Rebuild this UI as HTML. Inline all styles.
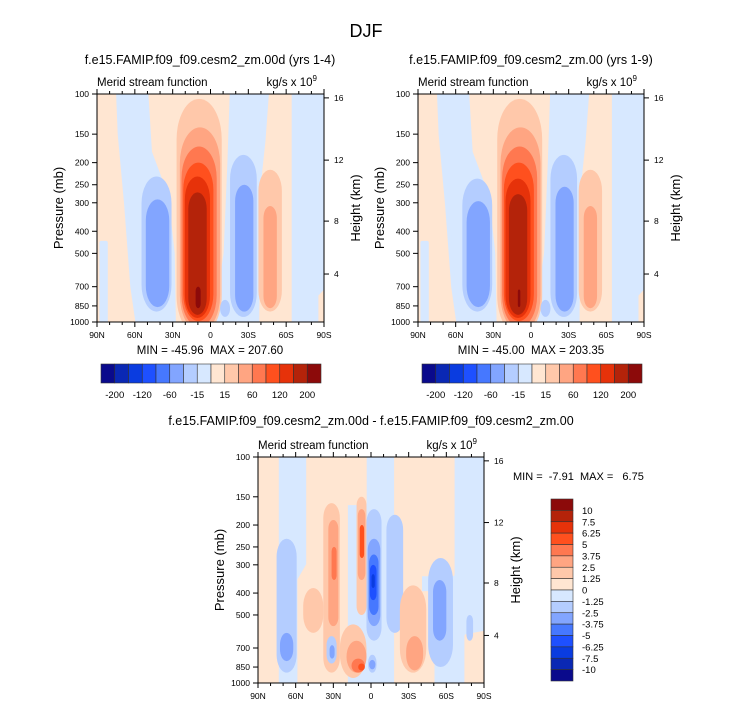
<!DOCTYPE html>
<html><head><meta charset="utf-8"><style>
html,body{margin:0;padding:0;background:#fff;}
svg{display:block;font-family:"Liberation Sans",Arial,sans-serif;}
text{white-space:pre;}
</style></head><body>
<svg id="fig" width="733" height="708" viewBox="0 0 733 708" xmlns="http://www.w3.org/2000/svg">
<text x="366" y="37" font-size="18" text-anchor="middle">DJF</text>
</svg>
<script>
// ---------- data ----------
const palette = ["#0a0a8c","#0a28b4","#0a3ce0","#1e50ff","#4678ff","#82a5ff","#b4cdff","#d7e8ff","#ffe6d2","#ffc8aa","#ffa582","#ff7850","#ff501e","#e6320a","#b4230a","#8c0a0a"];
const topLevelLabels = ["-200","-120","-60","-15","15","60","120","200"];
const diffLevelLabels = ["10","7.5","6.25","5","3.75","2.5","1.25","0","-1.25","-2.5","-3.75","-5","-6.25","-7.5","-10"];
const pTicks = [100,150,200,250,300,400,500,700,850,1000];
const latTicks = [90,60,30,0,-30,-60,-90];
const latLabels = ["90N","60N","30N","0","30S","60S","90S"];
const heightKm = [4,8,12,16];
const heightP = [616,361,195,104];
// top panels: background level 8; regions [level, [[lat,p],...]]
const topRegions = [
 [7, [[73.3,100],[50.8,100],[48,180],[35,280],[30,500],[29,1000],[58,1000],[62,700],[67,300],[72,150]]],
 [7, [[-16.8,100],[-44.7,100],[-42,160],[-38,260],[-37,1000],[2,1000],[-5,900],[-12,500],[-15,200]]],
 [7, [[-66,100],[-90,100],[-90,700],[-84,760],[-84,1000],[-66,1000]]],
 [7, [[86.5,450],[83,450],[83,1000],[86.5,1000]]]
];
// blobs: [level, latNorth, latSouth, pTop, pBottom]
const topBlobs = [
 [6,54.7,30.9,230,900],[5,51.3,32.7,290,860],
 [9,26.9,-8.9,105,1150],[10,24.3,-7.6,140,1100],[11,23,-4.9,170,1050],[12,21.6,-2.3,200,990],
 [13,20.3,0.4,230,960],[14,17.6,3,270,930],[15,11.8,7.8,700,870],
 [6,-7.6,-15.5,800,950],[6,-15.5,-36.7,185,950],[5,-19.5,-34,250,900],
 [9,-38,-56.6,215,900],[10,-42,-52.6,310,870]
];
const topRightBlobs = [
 [6,54.7,30.9,235,900],[5,51.3,32.7,295,860],
 [9,26.9,-8.9,105,1150],[10,24.3,-7.6,140,1100],[11,23,-4.9,170,1050],[12,21.6,-2.3,200,990],
 [13,20.3,0.4,235,960],[14,17.6,3,275,930],[15,10.5,8.5,720,860],
 [6,-7.6,-15.5,800,950],[6,-15.5,-36.7,185,950],[5,-19.5,-34,255,900],
 [9,-38,-56.6,215,900],[10,-42,-52.6,310,870]
];
const diffRegions = [
 [8, [[90,100],[75,100],[75,1000],[90,1000]]],
 [8, [[50,100],[20,100],[20,1000],[57,1000],[57,350],[50,300]]],
 [8, [[20,100],[5,100],[5,160],[20,160]]],
 [8, [[-20,100],[-39,100],[-39,400],[-49,400],[-49,1000],[-20,1000]]],
 [8, [[-39,100],[-65,100],[-65,330],[-39,330]]],
 [8, [[-76,620],[-90,600],[-90,1000],[-76,1000]]]
];
const diffBlobs = [
 [6,75.2,59.2,230,900],[5,72.5,61.9,600,800],
 [9,54,38,380,600],
 [9,38,24.8,160,900],[10,34,26,190,560],[11,31.4,27.4,250,350],
 [6,35.4,27.4,620,820],[5,33,29,680,780],
 [9,11.5,3.6,150,500],[10,10.5,4.5,170,350],[12,9,5.5,200,280],
 [9,24.8,3.6,550,950],[10,19.5,3.6,650,900],[11,15.5,4.9,780,900],[12,10.2,4.9,820,880],
 [6,3.6,-8.4,170,650],[5,2.6,-7.4,230,560],[4,1.5,-6,270,500],[3,0.9,-4.4,300,430],[2,-0.4,-3,330,380],
 [6,2.3,-4.4,750,900],[5,1.5,-3.5,790,870],
 [6,-12.3,-25.6,180,600],
 [9,-23,-44,370,900],[10,-28,-41.5,620,880],
 [6,-45.5,-65.3,280,850],[5,-49.4,-60,350,650],
 [6,-76,-81.3,500,650]
];
// ---------- drawing ----------
const NS="http://www.w3.org/2000/svg";
const svg=document.getElementById('fig');
function mk(tag,attrs,parent){const e=document.createElementNS(NS,tag);for(const k in attrs)e.setAttribute(k,attrs[k]);(parent||svg).appendChild(e);return e;}
function txt(s,attrs,parent){const e=mk('text',attrs,parent);e.textContent=s;return e;}
let clipId=0;
function panel(ox,oy,W,H,bgLev,regions,blobs,name){
 const g=mk('g',{});
 
 
 const xS=lat=>ox+(90-lat)/180*W;
 const yS=p=>oy+H*Math.log10(p/100);
 const cid='clip'+(clipId++);
 const cp=mk('clipPath',{id:cid},g);mk('rect',{x:ox,y:oy,width:W,height:H},cp);
 const pg=mk('g',{'clip-path':'url(#'+cid+')'},g);
 const bg=mk('rect',{x:ox,y:oy,width:W,height:H,fill:palette[bgLev]},pg);
 
 
 regions.forEach(r=>{
  const pts=r[1].map(q=>xS(q[0]).toFixed(1)+','+yS(q[1]).toFixed(1)).join(' ');
  const e=mk('polygon',{points:pts,fill:palette[r[0]],stroke:palette[r[0]],'stroke-width':4,'stroke-linejoin':'round'},pg);
  
  
 });
 blobs.forEach(b=>{
  const x1=xS(b[1]),x2=xS(b[2]),y1=yS(b[3]),y2=yS(b[4]);
  const w=x2-x1,h=y2-y1;const rx=w/2;const ry=Math.min(h/2,w*0.9);
  const e=mk('rect',{x:x1,y:y1,width:w,height:h,rx:rx,ry:ry,fill:palette[b[0]]},pg);
  
  
 });
 mk('rect',{x:ox,y:oy,width:W,height:H,fill:'none',stroke:'#000','stroke-width':1},g);
 pTicks.forEach(p=>{const y=yS(p);mk('line',{x1:ox-5,x2:ox,y1:y,y2:y,stroke:'#000'},g);
  const t=txt(String(p),{x:ox-8,y:y+3,'font-size':8.5,'text-anchor':'end'},g);
  
  });
 for(let l=-90;l<=90;l+=10){const x=xS(l);const maj=(l%30===0);
  mk('line',{x1:x,x2:x,y1:oy+H,y2:oy+H+(maj?5:3),stroke:'#000'},g);
  mk('line',{x1:x,x2:x,y1:oy,y2:oy-(maj?5:3),stroke:'#000'},g);}
 latTicks.forEach((l,i)=>{const t=txt(latLabels[i],{x:xS(l),y:oy+H+16,'font-size':8.5,'text-anchor':'middle'},g);
  
  });
 heightKm.forEach((z,i)=>{const y=yS(heightP[i]);mk('line',{x1:ox+W,x2:ox+W+5,y1:y,y2:y,stroke:'#000'},g);
  const t=txt(String(z),{x:ox+W+10,y:y+3,'font-size':8.5},g);
  
  });
 let t=txt('Pressure (mb)',{transform:`translate(${ox-34},${oy+H/2}) rotate(-90)`,'font-size':13,'text-anchor':'middle'},g);
 
 
 t=txt('Height (km)',{transform:`translate(${ox+W+36},${oy+H/2}) rotate(-90)`,'font-size':13,'text-anchor':'middle'},g);
 
 
 t=txt('Merid stream function',{x:ox,y:oy-8,'font-size':11.5},g);
 
 
 t=txt('',{x:ox+W-7,y:oy-8,'font-size':11.5,'text-anchor':'end'},g);
 
 
 t.textContent='kg/s x 10';
 const sup=mk('tspan',{dy:-5,'font-size':8},t);sup.textContent='9';
 return g;
}
function hbar(x,y,w,h,name){
 const g=mk('g',{});
 
 
 const bw=w/palette.length;
 palette.forEach((c,i)=>{const r=mk('rect',{x:x+i*bw,y:y,width:bw,height:h,fill:c,stroke:'#333','stroke-width':0.6},g);
  
  });
 topLevelLabels.forEach((s,i)=>{const bi=i<4?1+2*i:9+2*(i-4);
  const t=txt(s,{x:x+bi*bw,y:y+h+15,'font-size':9.5,'text-anchor':'middle'},g);
  
  });
}
function vbar(x,y,w,h,name){
 const g=mk('g',{});
 
 
 const bh=h/palette.length;
 palette.slice().reverse().forEach((c,i)=>{const r=mk('rect',{x:x,y:y+i*bh,width:w,height:bh,fill:c,stroke:'#333','stroke-width':0.6},g);
  
  });
 diffLevelLabels.forEach((s,i)=>{const t=txt(s,{x:x+w+9,y:y+(i+1)*bh+3.5,'font-size':9.5},g);
  
  });
}
function label(s,x,y,size,anchor,name){const t=txt(s,{x:x,y:y,'font-size':size,'text-anchor':anchor});
 
 }

label('f.e15.FAMIP.f09_f09.cesm2_zm.00d (yrs 1-4)',210,64,12.5,'middle','left-panel-title');
label('f.e15.FAMIP.f09_f09.cesm2_zm.00 (yrs 1-9)',531,64,12.5,'middle','right-panel-title');
panel(97,94,227,228,8,topRegions,topBlobs,'left-contour-plot');
panel(418,94,226,228,8,topRegions,topRightBlobs,'right-contour-plot');
label('MIN = -45.96  MAX = 207.60',210,354,11.5,'middle','left-min-max');
label('MIN = -45.00  MAX = 203.35',531,354,11.5,'middle','right-min-max');
hbar(101,364,220,19,'left-colorbar');
hbar(422,364,220,19,'right-colorbar');
label('f.e15.FAMIP.f09_f09.cesm2_zm.00d - f.e15.FAMIP.f09_f09.cesm2_zm.00',371,425,12.5,'middle','diff-panel-title');
panel(258,457,226,226,7,diffRegions,diffBlobs,'diff-contour-plot');
label('MIN =  -7.91  MAX =   6.75',513,480,11,'start','diff-min-max');
vbar(551,499,22,182,'diff-colorbar');
</script>
</body></html>
